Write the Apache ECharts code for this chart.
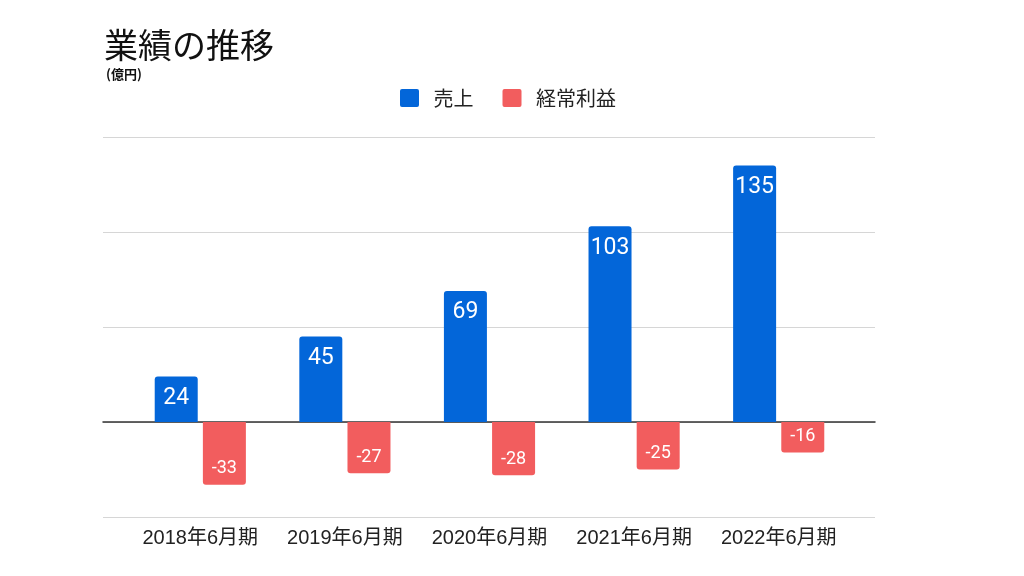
<!DOCTYPE html>
<html>
<head>
<meta charset="utf-8">
<script src="https://cdn.jsdelivr.net/npm/echarts@6/dist/echarts.min.js"></script>
<style>html,body{margin:0;padding:0;background:#fff;}#c{width:1024px;height:576px;}</style>
</head>
<body>
<div id="c"></div>
<script>
const categories = ['2018年6月期', '2019年6月期', '2020年6月期', '2021年6月期', '2022年6月期'];
const sales = [24, 45, 69, 103, 135];
const ordinaryProfit = [-33, -27, -28, -25, -16];
const seriesNames = ['売上', '経常利益'];
const titleText = '業績の推移';
const unitText = '(億円)';

const FONT = '"Liberation Sans", Arial, "Noto Sans CJK JP", sans-serif';
const ICON = 'path://M2,0 H17 A2,2 0 0 1 19,2 V16 A2,2 0 0 1 17,18 H2 A2,2 0 0 1 0,16 V2 A2,2 0 0 1 2,0 Z';
const chart = echarts.init(document.getElementById('c'), null, {renderer: 'canvas'});
const yCfg = {min: -50, max: 150, interval: 50};
chart.setOption({
  backgroundColor: '#fff',
  animation: false,
  textStyle: {fontFamily: FONT},
  title: [
    {text: titleText, left: 99, top: 23, textStyle: {fontSize: 34, fontWeight: 'normal', color: '#111', fontFamily: '"Noto Sans CJK JP", sans-serif'}},
    {text: unitText, left: 101, top: 63, textStyle: {fontSize: 13, fontWeight: 'bold', color: '#111', fontFamily: '"Noto Sans CJK JP", sans-serif'}}
  ],
  legend: {
    data: seriesNames,
    left: 395, top: 83,
    itemWidth: 20, itemHeight: 18, itemGap: 29,
    icon: ICON,
    textStyle: {fontSize: 20, color: '#222', padding: [0, 0, 0, 9], fontFamily: '"Noto Sans CJK JP", sans-serif'}
  },
  grid: [
    {left: 103, right: 149, top: 137, bottom: 59},
    {left: 128, right: 173, top: 137, bottom: 59}
  ],
  xAxis: [
    {gridIndex: 0, type: 'value', min: 0, max: 1, axisLabel: {show: false}, axisTick: {show: false}, splitLine: {show: false},
     axisLine: {show: true, onZero: true, lineStyle: {color: '#333', width: 1.5}}},
    {gridIndex: 1, type: 'category', data: categories, axisLine: {show: false}, axisTick: {show: false},
     axisLabel: {interval: 0, fontSize: 20, color: '#222', margin: 11, fontFamily: FONT}}
  ],
  yAxis: [
    {gridIndex: 0, type: 'value', ...yCfg, axisLabel: {show: false}, axisTick: {show: false}, axisLine: {show: false},
     splitLine: {show: true, lineStyle: {color: '#d6d6d6', width: 1.2}}},
    {gridIndex: 1, type: 'value', ...yCfg, show: false, splitLine: {show: false}}
  ],
  series: [
    {name: seriesNames[0], type: 'bar', xAxisIndex: 1, yAxisIndex: 1, data: sales,
     barWidth: 43, barGap: '12%',
     itemStyle: {color: '#0366d9', borderRadius: [3, 3, 0, 0]},
     label: {show: true, position: 'insideTop', distance: 10, color: '#fff', fontSize: 23, fontFamily: 'Roboto, sans-serif'}},
    {name: seriesNames[1], type: 'bar', xAxisIndex: 1, yAxisIndex: 1, data: ordinaryProfit,
     barWidth: 43, barGap: '12%',
     itemStyle: {color: '#f25d5e', borderRadius: [0, 0, 3, 3]},
     label: {show: true, position: 'insideBottom', distance: 7, color: '#fff', fontSize: 18, fontFamily: 'Roboto, sans-serif'}}
  ]
});
</script>
</body>
</html>
